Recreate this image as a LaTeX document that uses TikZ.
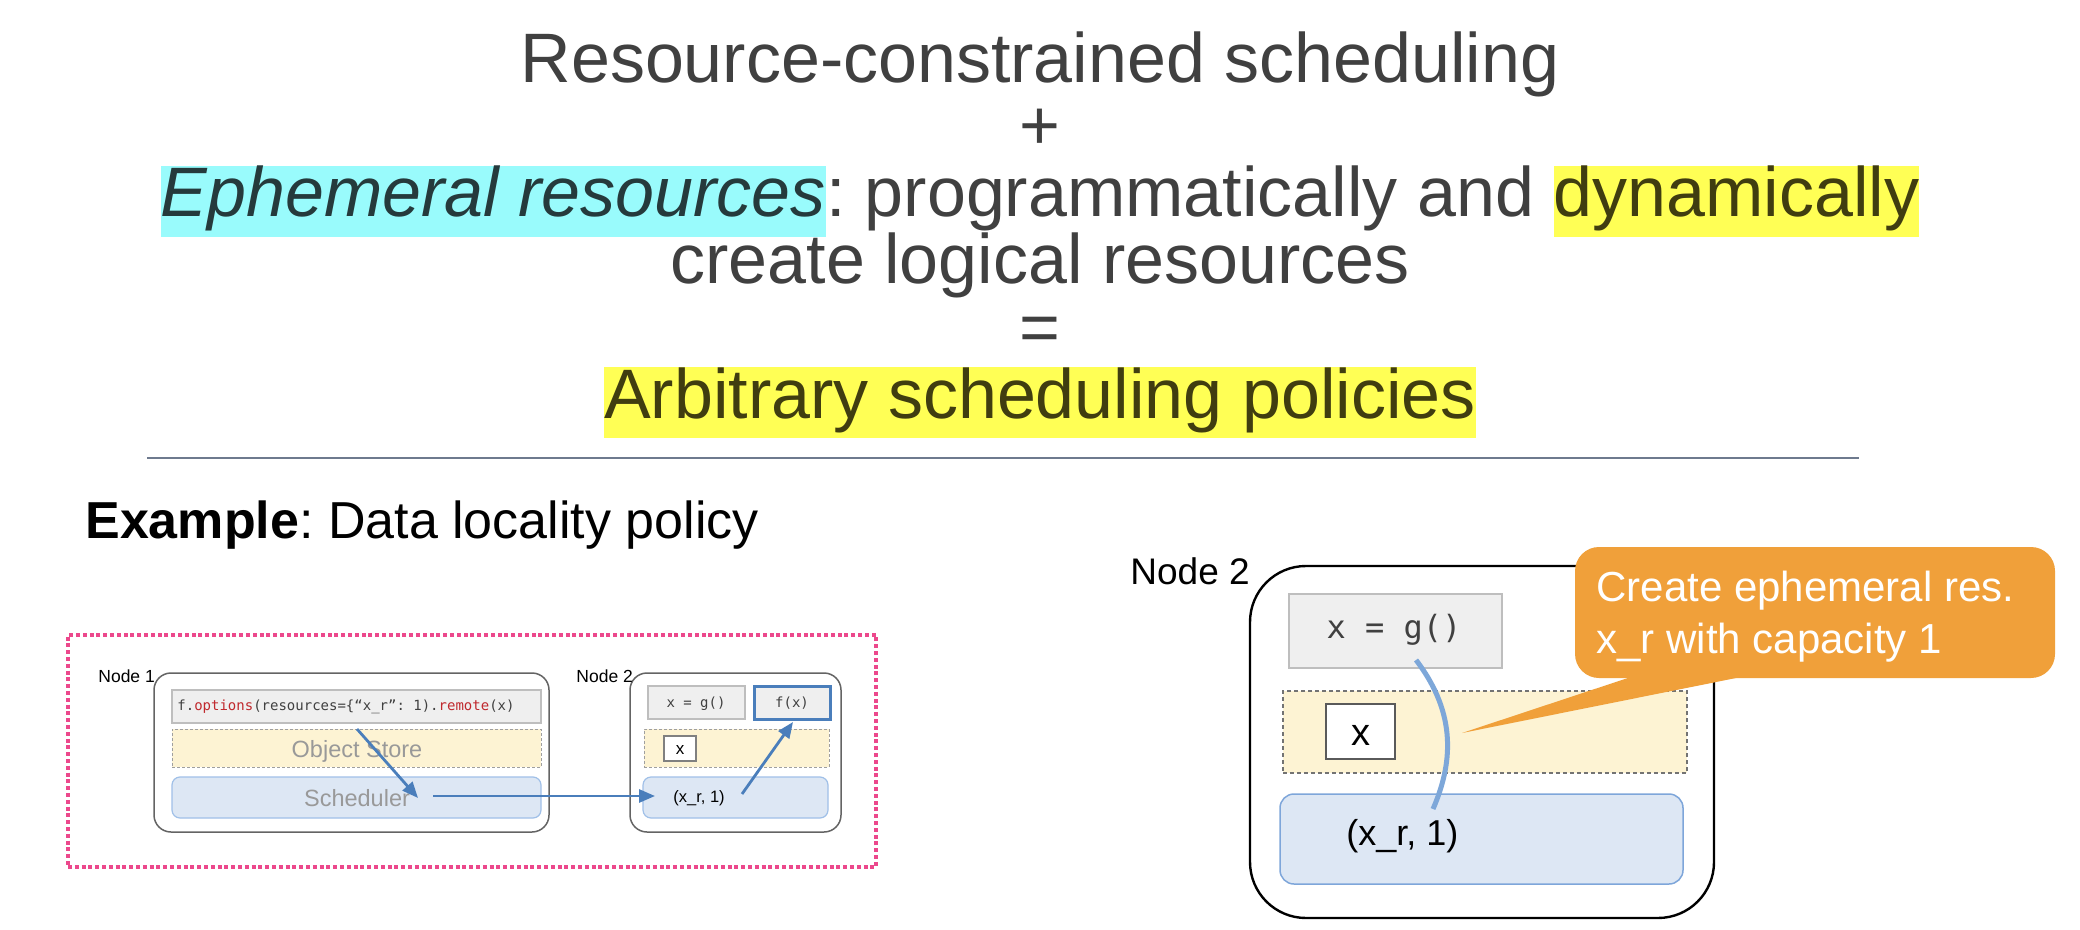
\documentclass[tikz,border=0pt]{standalone}
\usepackage{fontspec}
\setmainfont{Liberation Sans}
\newfontfamily\codefont{DejaVu Sans Mono}
\usetikzlibrary{fit,arrows.meta}
\frenchspacing
\definecolor{titlegray}{RGB}{64,64,64}
\definecolor{hlcyan}{RGB}{153,251,252}
\definecolor{hlyellow}{RGB}{255,255,85}
\definecolor{cyantext}{RGB}{37,58,60}
\definecolor{yellowtext}{RGB}{64,61,16}
\definecolor{rulecol}{RGB}{110,122,142}
\definecolor{pinkdot}{RGB}{236,72,140}
\definecolor{nodeborder}{RGB}{100,100,100}
\definecolor{codefill}{RGB}{239,239,239}
\definecolor{codeborder}{RGB}{190,190,190}
\definecolor{storefill}{RGB}{253,243,211}
\definecolor{schedfill}{RGB}{221,231,244}
\definecolor{schedborder}{RGB}{160,192,232}
\definecolor{arrowblue}{RGB}{74,126,187}
\definecolor{codered}{RGB}{192,40,45}
\definecolor{labelgray}{RGB}{153,153,153}
\definecolor{calloutcol}{RGB}{240,160,58}
\definecolor{curveblue}{RGB}{125,167,217}
\newcommand\hlbox[2]{{\setlength{\fboxsep}{0pt}\colorbox{#1}{\rule[-10pt]{0pt}{35pt}#2}}}
\tikzset{
  titletext/.style={font=\fontsize{35}{35}\selectfont, text=titlegray, inner sep=0, anchor=base},
  pinkframe/.style={draw=pinkdot, line width=2.4pt, dash pattern=on 2pt off 1.4pt, inner sep=0},
  nodebox/.style={draw=nodeborder, line width=0.75pt, rounded corners=8.5pt, fill=white, inner sep=0},
  smalllabel/.style={font=\fontsize{8.75}{9}\selectfont, inner sep=0, anchor=base west},
  codebox/.style={fill=codefill, draw=codeborder, line width=0.75pt, inner sep=0},
  storebox/.style={fill=storefill, draw=gray!75, line width=0.5pt, dash pattern=on 1.5pt off 1pt, inner sep=0},
  schedbox/.style={fill=schedfill, draw=schedborder, line width=0.6pt, rounded corners=4pt, inner sep=0},
  graylabel/.style={font=\fontsize{11.75}{12}\selectfont, text=labelgray, inner sep=0, anchor=base},
  smallcode/.style={font=\codefont\fontsize{7}{7}\selectfont, text=titlegray, inner sep=0, anchor=base},
  xbox/.style={fill=white, draw=gray, line width=0.6pt, inner sep=0},
  flow/.style={draw=arrowblue, line width=1.4pt, -{Triangle[length=8pt,width=6.5pt]}},
  bignode/.style={draw=black, line width=1.2pt, rounded corners=28pt, fill=white, inner sep=0},
  bigstore/.style={fill=storefill, draw=gray!90!black, line width=0.75pt, dash pattern=on 2pt off 1.5pt, inner sep=0},
  bigsched/.style={fill=schedfill, draw={rgb,255:red,126;green,166;blue,218}, line width=0.75pt, rounded corners=7pt, inner sep=0},
  bigx/.style={fill=white, draw={rgb,255:red,90;green,90;blue,90}, line width=1pt, inner sep=0},
  calloutbox/.style={fill=calloutcol, rounded corners=12pt, inner sep=0},
  callouttext/.style={font=\fontsize{21}{21}\selectfont, text=white, inner sep=0, anchor=base west}
}
\begin{document}
\begin{tikzpicture}[x=0.5pt,y=-0.5pt]
\useasboundingbox (0,0) rectangle (2080,930);
\fill[white] (0,0) rectangle (2080,930);
% title
\node[titletext] (t1) at (1040,83) {Resource-constrained scheduling};
\node[titletext] (t2) at (1040,150) {+};
\node[titletext] (t3) at (1040,217) {\hlbox{hlcyan}{\textcolor{cyantext}{\itshape Ephemeral resources}}: programmatically and \hlbox{hlyellow}{\textcolor{yellowtext}{dynamically}}};
\node[titletext] (t4) at (1040,284) {create logical resources};
\node[titletext] (t5) at (1040,351) {=};
\node[titletext] (t6) at (1040,418) {\hlbox{hlyellow}{\textcolor{yellowtext}{Arbitrary scheduling policies}}};
\coordinate (r1) at (147,458);
\coordinate (r2) at (1859,458);
\draw[rulecol, line width=1.3pt] (r1) -- (r2);
\node[anchor=base west, inner sep=0, font=\fontsize{26}{26}\selectfont] (ex) at (85,538) {\textbf{Example}: Data locality policy};
% left figure
\node[pinkframe, fit={(68,635)(876,867)}] (frame) {};
\node[nodebox, fit={(154,673)(549,832)}] (n1) {};
\node[smalllabel] (n1lab) at (98,682) {Node 1};
\node[codebox, fit={(172,690)(541,723)}] (code) {};
\node[smallcode, anchor=base west] (codetxt) at (177,710) {f.\textcolor{codered}{options}(resources=\{“x\_r”: 1).\textcolor{codered}{remote}(x)};
\node[storebox, fit={(172,729)(541,767)}] (store1) {};
\node[graylabel] (storetxt) at (357,757) {Object Store};
\node[schedbox, fit={(172,777)(541,818)}] (sched1) {};
\node[graylabel] (schedtxt) at (357,806) {Scheduler};
\node[nodebox, fit={(630,673)(841,832)}] (n2) {};
\node[smalllabel] (n2lab) at (576,682) {Node 2};
\node[codebox, fit={(648,686)(745,719)}] (g1) {};
\node[smallcode] (g1txt) at (696,707) {x = g()};
\node[codebox, draw=arrowblue, line width=1.5pt, fit={(754,686)(830,719)}] (fx) {};
\node[smallcode] (fxtxt) at (792,707) {f(x)};
\node[storebox, fit={(644,729)(829,767)}] (store2) {};
\node[xbox, fit={(664,736)(696,761)}] (xs) {};
\node[inner sep=0, anchor=base, font=\fontsize{8.5}{9}\selectfont] (xstxt) at (680,754) {x};
\node[schedbox, fit={(643,777)(828,818)}] (sched2) {};
\node[anchor=base west, inner sep=0, font=\fontsize{8.25}{9}\selectfont] (xr1) at (673,802) {(x\_r, 1)};
\coordinate (a1s) at (357,729);
\coordinate (a1e) at (418,798);
\coordinate (a2s) at (433,796);
\coordinate (a2e) at (655,796);
\coordinate (a3s) at (742,794);
\coordinate (a3e) at (793,722);
\draw[flow] (a1s) -- (a1e);
\draw[flow] (a2s) -- (a2e);
\draw[flow] (a3s) -- (a3e);
% right figure
\node[bignode, fit={(1250,566)(1714,918)}] (N2) {};
\node[anchor=base west, inner sep=0, font=\fontsize{18.5}{19}\selectfont] (N2lab) at (1130,584) {Node 2};
\node[codebox, line width=1pt, fit={(1289,594)(1502,668)}] (G) {};
\node[inner sep=0, anchor=base, font=\codefont\fontsize{16}{16}\selectfont, text=titlegray] (Gtxt) at (1394,638) {x = g()};
\node[bigstore, fit={(1283,691)(1687,773)}] (S) {};
\node[bigx, fit={(1326,704)(1395,759)}] (X) {};
\node[inner sep=0, anchor=base, font=\fontsize{19}{19}\selectfont] (Xtxt) at (1360.5,745) {x};
\node[bigsched, fit={(1280,794)(1683,884)}] (R) {};
\node[anchor=base west, inner sep=0, font=\fontsize{18}{18}\selectfont] (xr2) at (1346,845) {(x\_r, 1)};
\coordinate (cs) at (1416,660);
\coordinate (ce) at (1433,809);
\draw[curveblue, line width=2.5pt] (cs) .. controls (1458,715) and (1452,765) .. (ce);
\node[calloutbox, fit={(1575,547)(2055,678)}] (C) {};
\coordinate (tb1) at (1652,670);
\coordinate (tip) at (1462,733);
\coordinate (tb2) at (1776,670);
\fill[calloutcol] (tb1) -- (tip) -- (tb2) -- cycle;
\node[callouttext] (Ct1) at (1596,601) {Create ephemeral res.};
\node[callouttext] (Ct2) at (1596,653) {x\_r with capacity 1};
\end{tikzpicture}
\end{document}
